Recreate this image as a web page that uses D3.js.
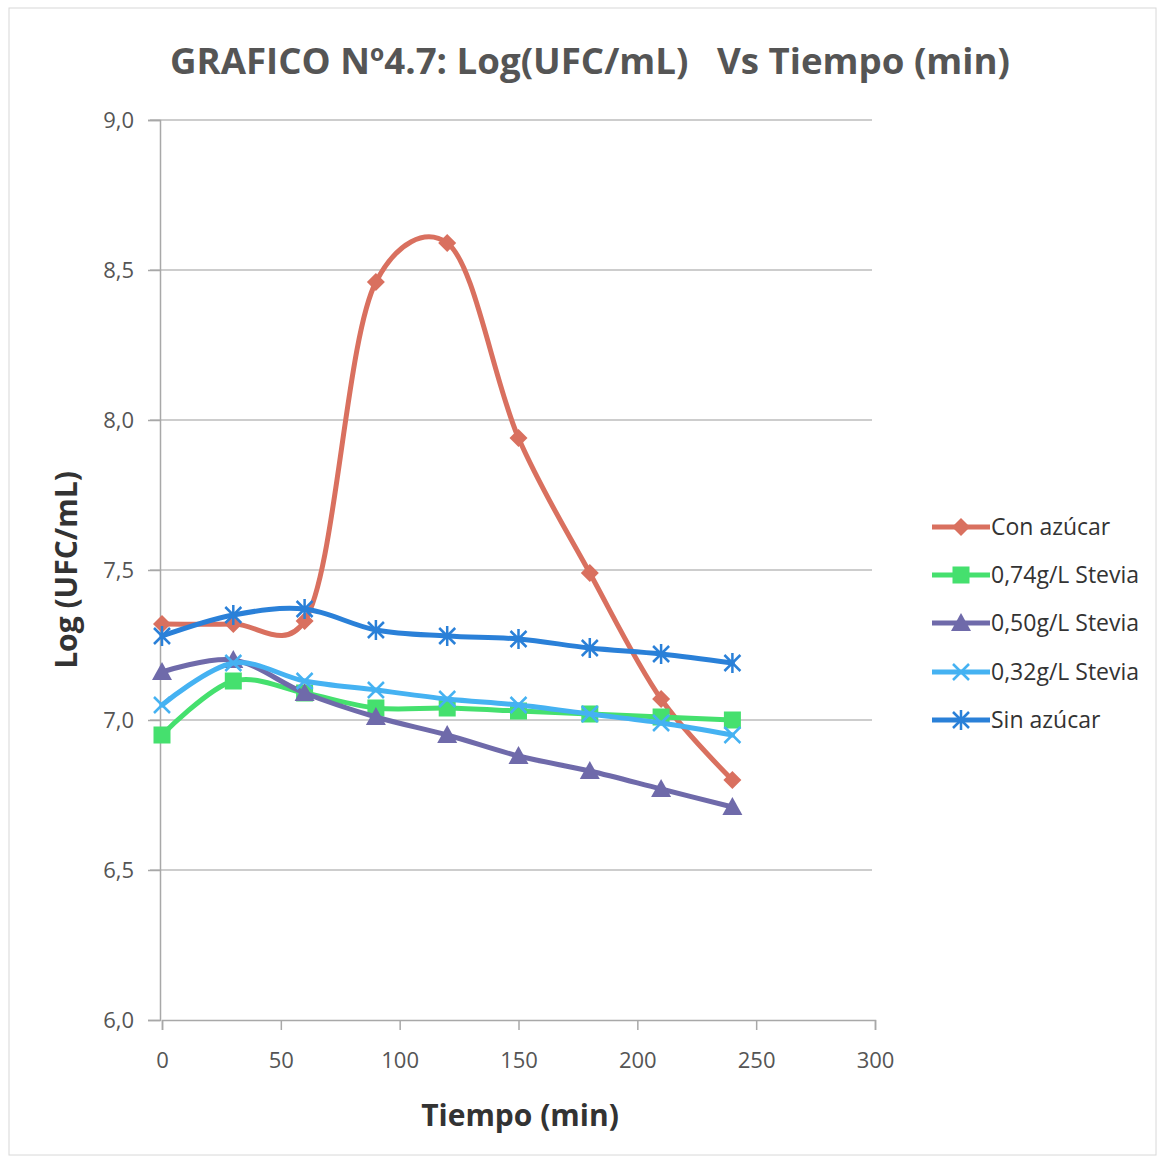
<!DOCTYPE html>
<html><head><meta charset="utf-8">
<script src="https://cdn.jsdelivr.net/npm/d3@7"></script>
<style>body{margin:0;background:#fff}svg{display:block}</style>
</head><body>
<script>
const times = [0, 30, 60, 90, 120, 150, 180, 210, 240];
const seriesNames = ["Con azúcar", "0,74g/L Stevia", "0,50g/L Stevia", "0,32g/L Stevia", "Sin azúcar"];
const conAzucar = [7.32, 7.32, 7.33, 8.46, 8.59, 7.94, 7.49, 7.07, 6.80];
const stevia074 = [6.95, 7.13, 7.09, 7.04, 7.04, 7.03, 7.02, 7.01, 7.00];
const stevia050 = [7.16, 7.20, 7.09, 7.01, 6.95, 6.88, 6.83, 6.77, 6.71];
const stevia032 = [7.05, 7.19, 7.13, 7.10, 7.07, 7.05, 7.02, 6.99, 6.95];
const sinAzucar = [7.28, 7.35, 7.37, 7.30, 7.28, 7.27, 7.24, 7.22, 7.19];
const xTicks = [0, 50, 100, 150, 200, 250, 300];
const yTicks = [6.0, 6.5, 7.0, 7.5, 8.0, 8.5, 9.0];
const colors = ["#d9705f", "#45e06e", "#6f6aaa", "#45b2f2", "#2a80d8"];
const markers = ["diamond", "square", "triangle", "x", "star"];
const allSeries = [conAzucar, stevia074, stevia050, stevia032, sinAzucar];

const W = 1165, H = 1161;
const svg = d3.select("body").append("svg").attr("width", W).attr("height", H);
svg.append("rect").attr("x", 9).attr("y", 8).attr("width", W - 18).attr("height", H - 14)
  .attr("fill", "#fff").attr("stroke", "#d8d8d8").attr("stroke-width", 1);

const x = d3.scaleLinear().domain([0, 300]).range([162, 875]);
const y = d3.scaleLinear().domain([6, 9]).range([1020, 120]);
const font = "'Open Sans', 'Liberation Sans', sans-serif";

// grid
svg.append("g").selectAll("line").data(yTicks.filter(d => d > 6)).join("line")
  .attr("x1", 150).attr("x2", 872).attr("y1", d => y(d)).attr("y2", d => y(d))
  .attr("stroke", "#bdbdbd").attr("stroke-width", 1.5);

// y axis
const yAxis = svg.append("g").attr("transform", `translate(${x(0) - 2},0)`)
  .call(d3.axisLeft(y).tickValues(yTicks).tickSize(12).tickPadding(14)
    .tickFormat(d => d3.format(".1f")(d).replace(".", ",")));
yAxis.select(".domain").attr("stroke", "#a8a8a8").attr("stroke-width", 1.5);
yAxis.selectAll(".tick line").attr("stroke", "#a8a8a8").attr("stroke-width", 1.5);
yAxis.selectAll("text").attr("font-family", font).attr("font-size", 22).attr("fill", "#555");

// x axis
const xAxis = svg.append("g").attr("transform", `translate(0,${y(6)})`)
  .call(d3.axisBottom(x).tickValues(xTicks).tickSize(10).tickPadding(22));
xAxis.select(".domain").attr("stroke", "#a8a8a8").attr("stroke-width", 1.5);
xAxis.selectAll(".tick line").attr("stroke", "#a8a8a8").attr("stroke-width", 1.5);
xAxis.selectAll("text").attr("font-family", font).attr("font-size", 22).attr("fill", "#555");

// titles
svg.append("text").attr("x", 590).attr("y", 74).attr("text-anchor", "middle")
  .attr("font-family", font).attr("font-weight", "bold").attr("font-size", 36).attr("fill", "#555")
  .attr("textLength", 840).attr("lengthAdjust", "spacingAndGlyphs")
  .attr("xml:space", "preserve").text("GRAFICO Nº4.7: Log(UFC/mL)   Vs Tiempo (min)");
svg.append("text").attr("x", 520).attr("y", 1126).attr("text-anchor", "middle")
  .attr("font-family", font).attr("font-weight", "bold").attr("font-size", 30).attr("fill", "#333")
  .text("Tiempo (min)");
svg.append("text").attr("transform", "translate(77,570) rotate(-90)").attr("text-anchor", "middle")
  .attr("font-family", font).attr("font-weight", "bold").attr("font-size", 30).attr("fill", "#333")
  .text("Log (UFC/mL)");

function drawMarker(g, type, color, cx, cy) {
  const s = 9;
  if (type === "diamond") {
    g.append("path").attr("d", `M${cx},${cy - s}L${cx + s},${cy}L${cx},${cy + s}L${cx - s},${cy}Z`).attr("fill", color);
  } else if (type === "square") {
    g.append("rect").attr("x", cx - 8.5).attr("y", cy - 8.5).attr("width", 17).attr("height", 17).attr("fill", color);
  } else if (type === "triangle") {
    g.append("path").attr("d", `M${cx},${cy - 10}L${cx + 10},${cy + 8}L${cx - 10},${cy + 8}Z`).attr("fill", color);
  } else if (type === "x") {
    g.append("path").attr("d", `M${cx - 8},${cy - 8}L${cx + 8},${cy + 8}M${cx - 8},${cy + 8}L${cx + 8},${cy - 8}`)
      .attr("stroke", color).attr("stroke-width", 2.5);
  } else if (type === "star") {
    g.append("path").attr("d", `M${cx - 8},${cy - 8}L${cx + 8},${cy + 8}M${cx - 8},${cy + 8}L${cx + 8},${cy - 8}M${cx},${cy - 10}L${cx},${cy + 10}`)
      .attr("stroke", color).attr("stroke-width", 2.5);
  }
}

const line = d3.line().x(d => x(d[0])).y(d => y(d[1])).curve(d3.curveCatmullRom.alpha(0.25));
allSeries.forEach((vals, i) => {
  const g = svg.append("g");
  const pts = times.map((t, j) => [t, vals[j]]);
  g.append("path").attr("d", line(pts)).attr("fill", "none").attr("stroke", colors[i])
    .attr("stroke-width", 5).attr("stroke-linejoin", "round").attr("stroke-linecap", "round");
  pts.forEach(p => drawMarker(g, markers[i], colors[i], x(p[0]), y(p[1])));
});

// legend
const legY = [527, 575, 623, 672, 720];
seriesNames.forEach((name, i) => {
  const g = svg.append("g");
  g.append("line").attr("x1", 932).attr("x2", 990).attr("y1", legY[i]).attr("y2", legY[i])
    .attr("stroke", colors[i]).attr("stroke-width", 5);
  drawMarker(g, markers[i], colors[i], 961, legY[i]);
  g.append("text").attr("x", 991).attr("y", legY[i] + 8).attr("font-family", font)
    .attr("font-size", 23).attr("fill", "#333").text(name);
});
</script>
</body></html>
